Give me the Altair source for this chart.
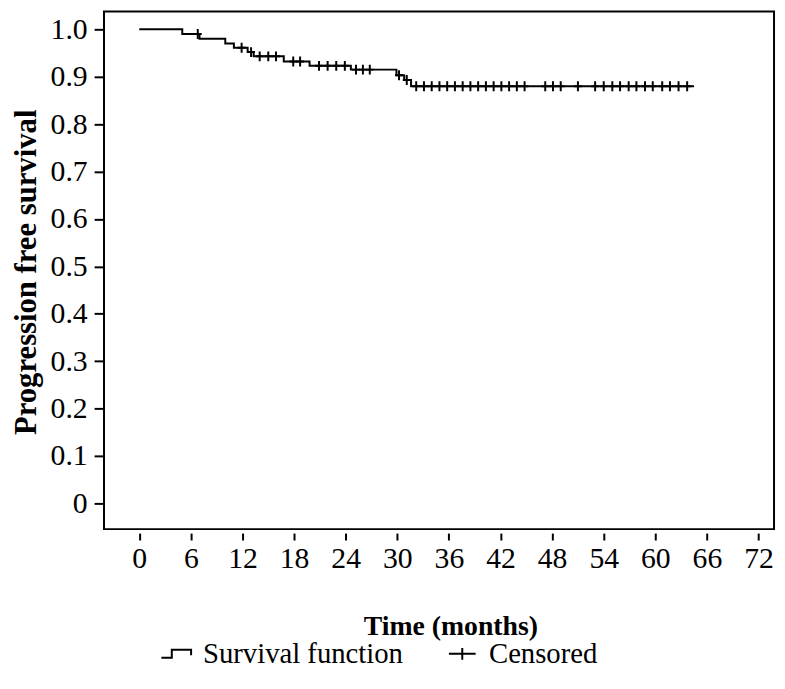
import altair as alt
import pandas as pd

# ---- data ----
step_times = [0, 5.0, 7.0, 10.0, 11.0, 12.6, 13.3, 16.8, 19.8, 24.6, 29.9, 30.8, 31.6, 64.5]
step_surv = [1.0, 0.990, 0.980, 0.970, 0.961, 0.952, 0.943, 0.932, 0.923, 0.915, 0.903, 0.893, 0.880, 0.880]
censor_times = [6.8, 11.9, 13.0, 14.0, 15.0, 15.9, 17.9, 18.7, 20.9, 21.9, 22.9, 23.9,
                25.2, 26.0, 26.8, 30.2, 31.1,
                32.2, 33.1, 34.0, 34.9, 35.8, 36.7, 37.6, 38.5, 39.4, 40.3, 41.2, 42.1, 43.0, 43.9, 44.8,
                47.2, 48.1, 49.0, 51.0,
                53.0, 54.0, 55.0, 55.9, 56.9, 57.8, 58.8, 59.7, 60.8, 61.7, 62.7, 63.7]
x_ticks = [0, 6, 12, 18, 24, 30, 36, 42, 48, 54, 60, 66, 72]
y_ticks = [0, 0.1, 0.2, 0.3, 0.4, 0.5, 0.6, 0.7, 0.8, 0.9, 1.0]
legend_labels = ["Survival function", "Censored"]


def surv_at(t):
    val = step_surv[0]
    for st, sv in zip(step_times, step_surv):
        if st <= t:
            val = sv
    return val


curve = pd.DataFrame({"t": step_times, "s": step_surv})
cens = pd.DataFrame({"t": censor_times, "s": [surv_at(t) for t in censor_times]})
leg = pd.DataFrame({"type": legend_labels})

FONT = "Liberation Serif"
STEP_PATH = "M-1,0.27L-0.3,0.27L-0.3,-0.27L1,-0.27L1,0.1"
PLUS_LEG = "M-0.9,0L0.9,0M0,-0.4L0,0.4"
PLUS_PT = "M-0.8,0L0.8,0M0,-1L0,1"

xscale = alt.Scale(domain=[-4.1, 73.8], nice=False, zero=False)
yscale = alt.Scale(domain=[-0.0543, 1.0376], nice=False, zero=False)

xaxis = alt.Axis(values=x_ticks, title="Time (months)", grid=False, domain=False,
                 tickSize=7, tickWidth=2, tickColor="black", offset=4,
                 labelFont=FONT, labelFontSize=30, labelPadding=4, labelColor="black",
                 labelFlush=False,
                 titleFont=FONT, titleFontSize=28, titleFontWeight="bold", titleColor="black",
                 titlePadding=39, titleX=350, titleAlign="center")
yaxis = alt.Axis(values=y_ticks, title="Progression free survival", grid=False, domain=False,
                 tickSize=10, tickWidth=2, tickColor="black",
                 labelFont=FONT, labelFontSize=30, labelPadding=7, labelColor="black",
                 labelExpr="datum.value == 0 ? '0' : format(datum.value, '.1f')",
                 titleFont=FONT, titleFontSize=31, titleFontWeight="bold", titleColor="black",
                 titleAngle=270, titleX=-69, titleY=263, titleBaseline="alphabetic",
                 titleAlign="center")

line = alt.Chart(curve).mark_line(interpolate="step-after", color="black", strokeWidth=2).encode(
    x=alt.X("t:Q", scale=xscale, axis=xaxis),
    y=alt.Y("s:Q", scale=yscale, axis=yaxis),
)

points = alt.Chart(cens).mark_point(shape=PLUS_PT, size=100, filled=False, color="black",
                                    strokeWidth=2, opacity=1).encode(
    x="t:Q", y="s:Q")

legend_layer = alt.Chart(leg).mark_point(filled=False, color="black", opacity=0).encode(
    x=alt.value(0), y=alt.value(0),
    shape=alt.Shape("type:N", scale=alt.Scale(domain=legend_labels, range=[STEP_PATH, PLUS_LEG]),
                    legend=alt.Legend(title=None, orient="none", legendX=57, legendY=633,
                                      direction="horizontal", symbolSize=900,
                                      symbolStrokeWidth=2, symbolStrokeColor="black",
                                      symbolFillColor="transparent", symbolOpacity=1,
                                      labelFont=FONT, labelFontSize=29, labelColor="black",
                                      labelOffset=11, columnPadding=41, labelLimit=0)),
)

chart = alt.layer(line, points, legend_layer).properties(
    width=677, height=523,
    autosize=alt.AutoSizeParams(type="none"),
    padding={"left": 97, "top": 0, "right": 3, "bottom": 158},
    background="white",
).configure_view(stroke="black", strokeWidth=2)

chart.save("out.html", embed_options={"renderer": "svg", "actions": False})
